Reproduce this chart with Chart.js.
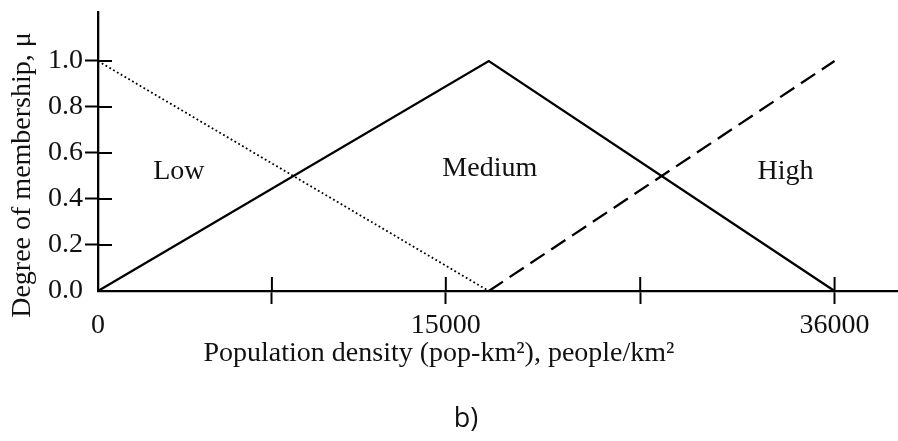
<!DOCTYPE html>
<html>
<head>
<meta charset="utf-8">
<title>Membership functions</title>
<script src="https://cdn.jsdelivr.net/npm/chart.js@4.4.1/dist/chart.umd.min.js"></script>
<style>
    html, body { margin: 0; padding: 0; background: #fff; }
    #wrap { width: 898px; height: 441px; }
</style>
</head>
<body>
<div id="wrap"><canvas id="membershipChart" width="898" height="441"></canvas></div>
<script>
// membership functions: x = population density (axis units), y = degree of membership
const lowX = [0, 19100];
const lowY = [1, 0];
const mediumX = [0, 19100, 36000];
const mediumY = [0, 1, 0];
const highX = [19100, 36000];
const highY = [0, 1];

// axis ticks (the picture is not drawn to scale, labels sit where the figure puts them)
const xTickValues = [0, 8500, 17000, 26500, 36000];
const xTickLabels = ["0", "", "15000", "", "36000"];
const yTickValues = [0, 0.2, 0.4, 0.6, 0.8, 1.0];

// region names written inside the plot
const regionNames = ["Low", "Medium", "High"];
const regionX = [3950, 19150, 33600];
const regionY = [0.52, 0.53, 0.52];

const SERIF = "'Liberation Serif', 'Times New Roman', serif";
const INK = "#111";

const toPoints = (xs, ys) => xs.map((x, i) => ({ x, y: ys[i] }));

// inner half of the tick marks, axis titles, region names and panel tag
const figureText = {
    id: "figureText",
    afterDraw(chart) {
        const { ctx, scales: { x, y } } = chart;
        ctx.save();
        ctx.strokeStyle = "#000";
        ctx.lineWidth = 2;
        xTickValues.forEach(v => {
            if (v === 0) return;
            const px = x.getPixelForValue(v);
            ctx.beginPath();
            ctx.moveTo(px, y.bottom);
            ctx.lineTo(px, y.bottom - 14);
            ctx.stroke();
        });
        yTickValues.forEach(v => {
            if (v === 0) return;
            const py = y.getPixelForValue(v);
            ctx.beginPath();
            ctx.moveTo(x.left, py);
            ctx.lineTo(x.left + 14, py);
            ctx.stroke();
        });

        ctx.fillStyle = INK;
        ctx.font = "28px " + SERIF;
        ctx.textAlign = "center";
        ctx.textBaseline = "middle";
        regionNames.forEach((name, i) => {
            ctx.fillText(name, x.getPixelForValue(regionX[i]), y.getPixelForValue(regionY[i]));
        });

        ctx.fillText("Population density (pop-km\u00B2), people/km\u00B2", 439, 354);

        ctx.save();
        ctx.translate(23, 175);
        ctx.rotate(-Math.PI / 2);
        ctx.fillText("Degree of membership, \u03BC", 0, 0);
        ctx.restore();

        ctx.font = "27px 'Open Sans', 'Liberation Sans', sans-serif";
        ctx.fillText("b)", 466, 419);
        ctx.restore();
    }
};

const tickMark = c => (c.tick && c.tick.value === 0 ? "rgba(0,0,0,0)" : "#000");

new Chart(document.getElementById("membershipChart"), {
    type: "line",
    data: {
        datasets: [
            {
                label: "Low",
                data: toPoints(lowX, lowY),
                borderColor: "#000",
                borderWidth: 1.8,
                borderDash: [1.8, 2.6],
                pointRadius: 0,
                tension: 0
            },
            {
                label: "Medium",
                data: toPoints(mediumX, mediumY),
                borderColor: "#000",
                borderWidth: 2.3,
                pointRadius: 0,
                tension: 0
            },
            {
                label: "High",
                data: toPoints(highX, highY),
                borderColor: "#000",
                borderWidth: 2.3,
                borderDash: [17, 8],
                pointRadius: 0,
                tension: 0
            }
        ]
    },
    options: {
        responsive: false,
        devicePixelRatio: 1,
        animation: false,
        clip: false,
        layout: { padding: { top: 12, right: 0, left: 0, bottom: 0 } },
        plugins: {
            legend: { display: false },
            tooltip: { enabled: false }
        },
        scales: {
            x: {
                type: "linear",
                min: 0,
                max: 39100,
                afterBuildTicks: s => { s.ticks = xTickValues.map(v => ({ value: v })); },
                afterFit: s => { s.height = 150; },
                border: { display: true, color: "#000", width: 2.3 },
                grid: {
                    drawOnChartArea: false,
                    drawTicks: true,
                    tickLength: 13,
                    tickWidth: 2,
                    tickColor: tickMark
                },
                ticks: {
                    autoSkip: false,
                    maxRotation: 0,
                    padding: 5,
                    color: INK,
                    font: { family: SERIF, size: 28 },
                    callback: (v, i) => xTickLabels[i]
                },
                title: { display: false }
            },
            y: {
                min: 0,
                max: 1.213,
                afterBuildTicks: s => { s.ticks = yTickValues.map(v => ({ value: v })); },
                afterFit: s => {
                    s.width = 98;
                    s.paddingTop = 0;
                    s.paddingBottom = 0;
                },
                border: { display: true, color: "#000", width: 2.3 },
                grid: {
                    drawOnChartArea: false,
                    drawTicks: true,
                    tickLength: 13,
                    tickWidth: 2,
                    tickColor: tickMark
                },
                ticks: {
                    padding: 2,
                    color: INK,
                    font: { family: SERIF, size: 28 },
                    callback: v => v.toFixed(1)
                },
                title: { display: false }
            }
        }
    },
    plugins: [figureText]
});
</script>
</body>
</html>
